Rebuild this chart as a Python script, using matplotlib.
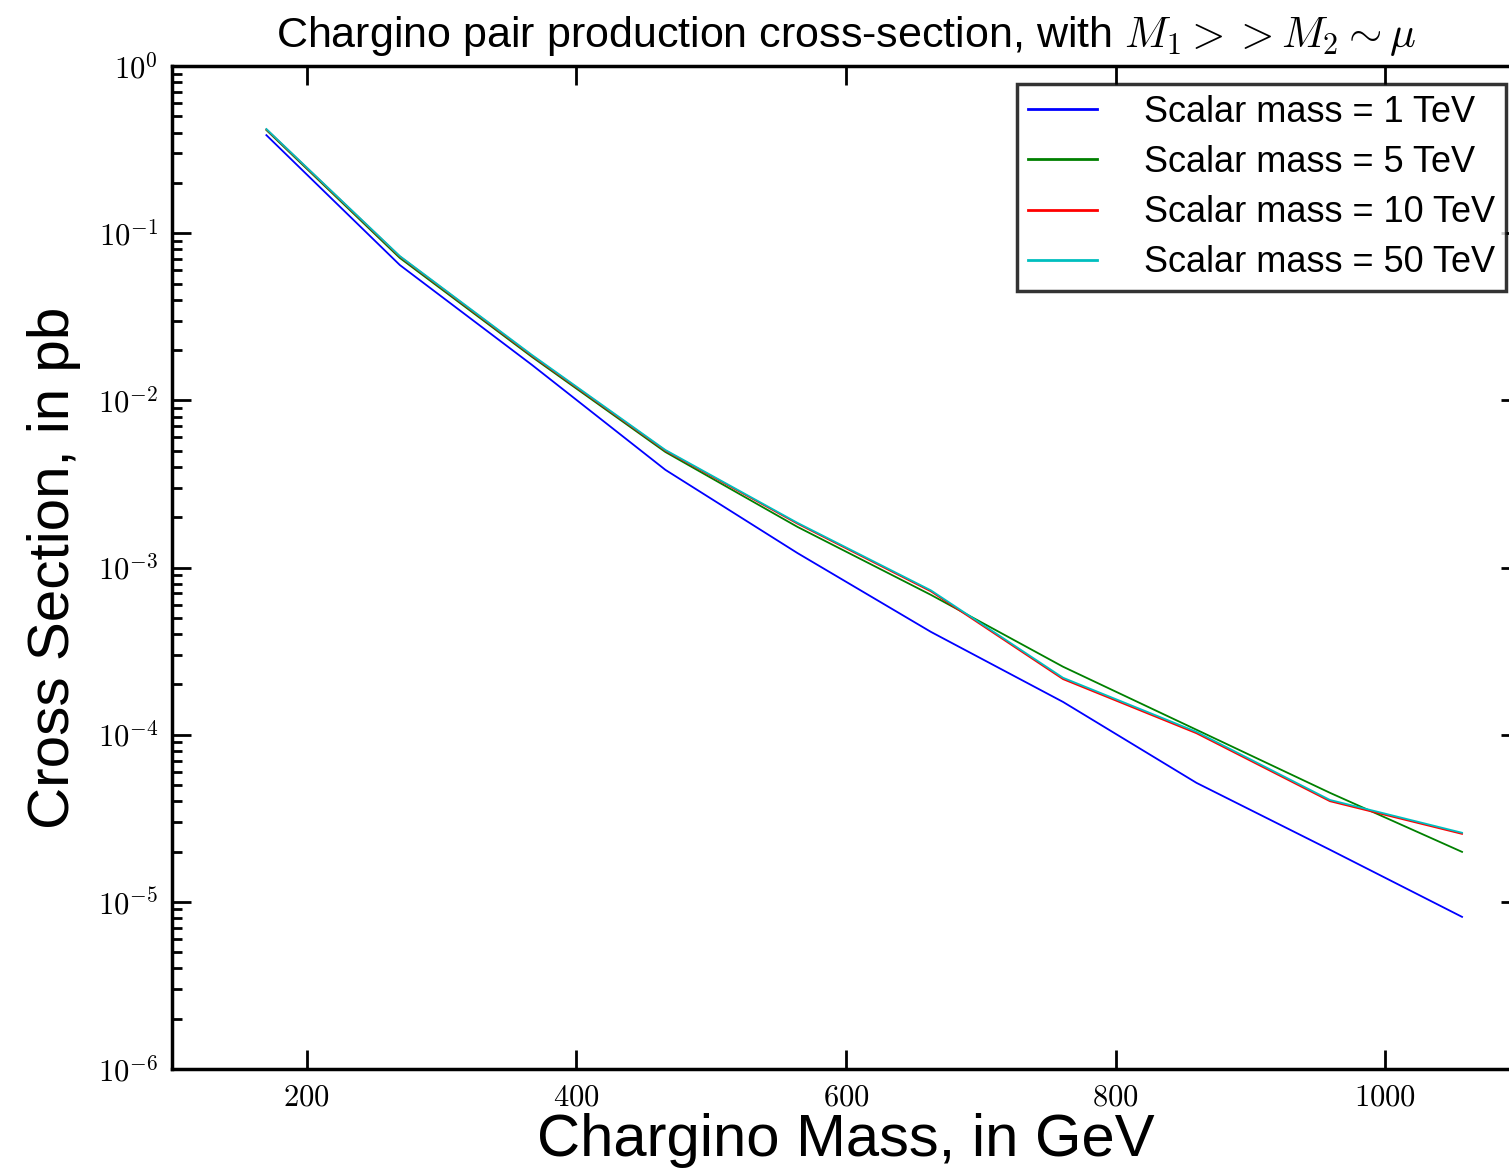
import numpy as np
import matplotlib
matplotlib.use('Agg')
import matplotlib.pyplot as plt
from matplotlib.ticker import FuncFormatter, LogLocator

plt.rcParams['font.family'] = ['Liberation Sans', 'DejaVu Sans']
plt.rcParams['mathtext.fontset'] = 'cm'

# chargino masses (GeV)
mass = [170, 269, 367, 466, 564, 663, 761, 860, 959, 1057]

# cross sections in pb, one list per scalar mass
xs_1tev = [0.386, 0.0645, 0.0163, 3.84e-3, 1.22e-3, 4.12e-4, 1.57e-4, 5.15e-5, 2.05e-5, 8.13e-6]
xs_5tev = [0.414, 0.0711, 0.0182, 4.91e-3, 1.75e-3, 6.86e-4, 2.55e-4, 1.07e-4, 4.49e-5, 1.99e-5]
xs_10tev = [0.418, 0.0725, 0.0185, 5.0e-3, 1.83e-3, 7.2e-4, 2.15e-4, 1.02e-4, 4.0e-5, 2.55e-5]
xs_50tev = [0.42, 0.073, 0.0187, 5.05e-3, 1.85e-3, 7.3e-4, 2.19e-4, 1.04e-4, 4.07e-5, 2.59e-5]

labels = ['Scalar mass = 1 TeV', 'Scalar mass = 5 TeV',
          'Scalar mass = 10 TeV', 'Scalar mass = 50 TeV']
colors = ['b', 'g', 'r', 'c']

fig = plt.figure(figsize=(15.09, 11.71), dpi=100)
ax = fig.add_axes([0.114, 0.0871, 0.8933, 0.8565])

for ys, lab, col in zip([xs_1tev, xs_5tev, xs_10tev, xs_50tev], labels, colors):
    ax.plot(mass, ys, color=col, lw=1.3, label=lab)

ax.set_yscale('log')
ax.set_ylim(1e-6, 1e0)
ax.set_xlim(100, 1100)
ax.set_xticks([200, 400, 600, 800, 1000])
ax.xaxis.set_major_formatter(FuncFormatter(lambda v, p: r'$%d$' % v))
ax.yaxis.set_major_locator(LogLocator(base=10, numticks=10))
ax.yaxis.set_major_formatter(FuncFormatter(lambda v, p: r'$10^{%d}$' % round(np.log10(v))))

for s in ax.spines.values():
    s.set_linewidth(2.5)
ax.tick_params(which='both', direction='in', top=True, right=True, labelsize=22, pad=10)
ax.tick_params(which='major', length=14, width=2)
ax.tick_params(which='minor', length=7, width=2)

ax.set_xlabel('Chargino Mass, in GeV', fontsize=43, labelpad=0)
ax.set_ylabel('Cross Section, in pb', fontsize=42, labelpad=12)
ax.set_title(r'Chargino pair production cross-section, with $M_1 >> M_2 \sim \mu$',
             fontsize=31, pad=14)

leg = ax.legend(loc='upper left', bbox_to_anchor=(0.627, 0.982), fontsize=26,
                fancybox=False, handlelength=1.9, handletextpad=1.3,
                borderpad=0.3, labelspacing=0.42, borderaxespad=0)
leg.get_frame().set_edgecolor('black')
leg.get_frame().set_linewidth(2.5)
for h in leg.get_lines():
    h.set_linewidth(2)

fig.savefig('out.png', dpi=100)
